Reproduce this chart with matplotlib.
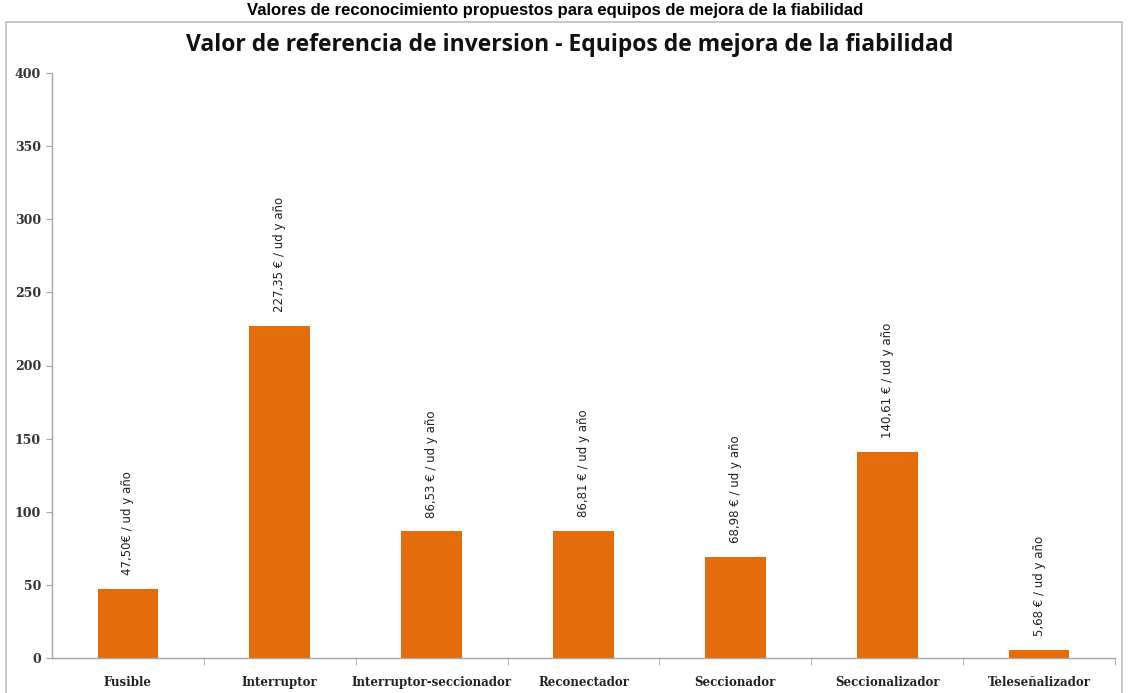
import matplotlib
matplotlib.use("Agg")
import matplotlib.pyplot as plt
from matplotlib.patches import Rectangle

# ===== DATA =====
categorias = ["Fusible", "Interruptor", "Interruptor-seccionador", "Reconectador",
              "Seccionador", "Seccionalizador", "Teleseñalizador"]
valores = [47.50, 227.35, 86.53, 86.81, 68.98, 140.61, 5.68]
etiquetas = ["47,50€ / ud y año", "227,35 € / ud y año", "86,53 € / ud y año",
             "86,81 € / ud y año", "68,98 € / ud y año", "140,61 € / ud y año",
             "5,68 € / ud y año"]
y_ticks = [0, 50, 100, 150, 200, 250, 300, 350, 400]

titulo = "Valor de referencia de inversion - Equipos de mejora de la fiabilidad"
caption = "Valores de reconocimiento propuestos para equipos de mejora de la fiabilidad"

# ===== STYLE =====
naranja = "#E46C0A"
gris = "#A6A6A6"
W, H = 1128, 693

fig = plt.figure(figsize=(W / 100, H / 100), dpi=100)
fig.patch.set_facecolor("white")

# chart frame (grey border, runs off the bottom)
fig.patches.append(Rectangle((6 / W, -0.05), (1122 - 6) / W, 1 - 22 / H + 0.05,
                             transform=fig.transFigure, fill=False,
                             edgecolor="#BFBFBF", linewidth=1.2))

# caption above the chart (cut off in the original, kept visible here)
fig.text(555 / W, 1 - 10 / H, caption, ha="center", va="center",
         fontsize=12, fontweight="bold", family="Liberation Sans", color="black")

ax = fig.add_axes([52 / W, 1 - 658 / H, (1115 - 52) / W, (658 - 73) / H])

x = list(range(len(categorias)))
ax.bar(x, valores, width=0.4, color=naranja, zorder=2)

ax.set_xlim(-0.5, len(categorias) - 0.5)
ax.set_ylim(0, 400)
ax.set_yticks(y_ticks)
ax.set_yticklabels([str(t) for t in y_ticks], fontsize=9, fontweight="bold",
                   family="DejaVu Serif", color="#333333")

ax.set_xticks(x)
ax.set_xticklabels(categorias, fontsize=8.5, fontweight="bold", family="DejaVu Serif",
                   color="#222222")
ax.set_xticks([i + 0.5 for i in x], minor=True)
ax.tick_params(axis="x", which="major", length=0, pad=13)
ax.tick_params(axis="x", which="minor", length=5, color=gris, direction="out")
ax.tick_params(axis="y", length=4, color=gris, direction="out", pad=4)

for s in ["top", "right"]:
    ax.spines[s].set_visible(False)
for s in ["left", "bottom"]:
    ax.spines[s].set_color(gris)
    ax.spines[s].set_linewidth(1)

for xi, v, lab in zip(x, valores, etiquetas):
    ax.annotate(lab, (xi, v), xytext=(0, 10), textcoords="offset points",
                rotation=90, ha="center", va="bottom", fontsize=8.5,
                family="DejaVu Sans", color="#222222")

fig.text(570 / W, 1 - 45 / H, titulo, ha="center", va="center", fontsize=16.5,
         fontweight="bold", family="Open Sans", color="#111111")

fig.savefig("out.png", dpi=100, facecolor="white")
